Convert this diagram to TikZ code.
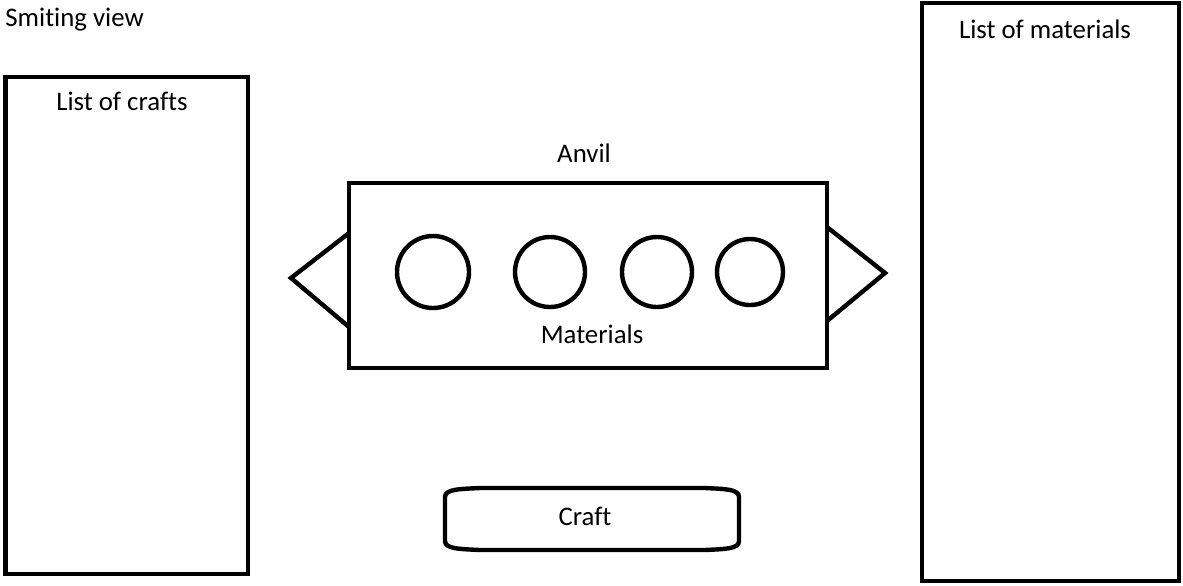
\documentclass[tikz,border=0pt]{standalone}
\usepackage{fontspec}
\setmainfont{Carlito}[Ligatures=NoCommon]
\usetikzlibrary{positioning}

\tikzset{
  outline/.style={line width=2.2pt, line join=miter},
  label text/.style={rectangle, inner sep=0pt, font=\fontsize{13.4}{15}\selectfont},
}

\begin{document}
\begin{tikzpicture}[x=0.5pt, y=-0.5pt]
        \useasboundingbox (0,0) rectangle (1183,585);

        \node[label text, anchor=west] (title) at (5,20) {Smiting view};

        % side lists
        \draw[outline] (5.5,77) rectangle (248,574);
        \node[label text] (crafts) at (122,101) {List of crafts};
        \draw[outline] (922,3) rectangle (1179,581);
        \node[label text] (materials) at (1045,29) {List of materials};

        % anvil
        \node[label text] (anvil) at (584,153) {Anvil};
        \draw[outline] (349,183) rectangle (827,368);
        \draw[outline] (349,233) -- (291,278) -- (349,327);
        \draw[outline] (827,227) -- (885,273) -- (827,321);
        \draw[outline] (433,272) circle (36);
        \draw[outline] (550,272) circle (35);
        \draw[outline] (657,272) circle (35);
        \draw[outline] (750,272) circle (33);
        \node[label text] (slots) at (592,334) {Materials};

        % craft button
        \draw[outline] (445,497) .. controls (445,489) and (460,489) .. (480,488)
             -- (705,488) .. controls (725,489) and (739,489) .. (739,497)
             -- (739,541) .. controls (739,549) and (725,549) .. (705,550)
             -- (480,550) .. controls (460,549) and (445,549) .. (445,541) -- cycle;
        \node[label text] (craft) at (585,516) {Craft};
\end{tikzpicture}
\end{document}
